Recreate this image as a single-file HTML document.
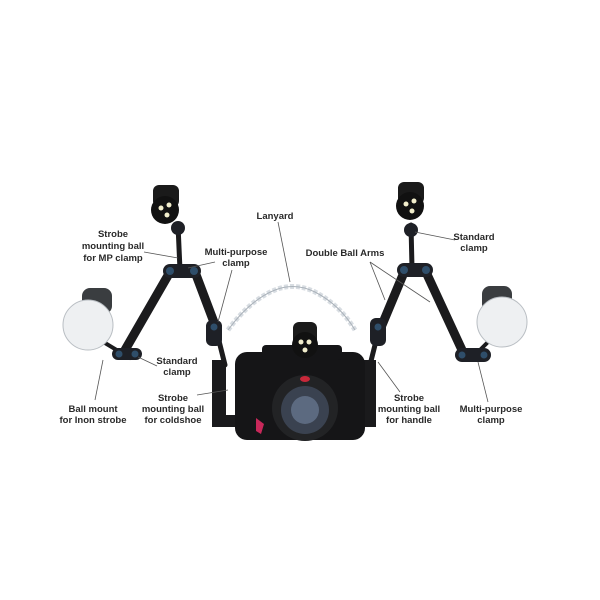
<!DOCTYPE html>
<html><head><style>
html,body{margin:0;padding:0;background:#fff;}
svg{display:block}
text{font-family:"Liberation Sans",sans-serif;font-weight:bold;font-size:9.5px;fill:#2a2a2a;text-anchor:middle}
</style></head><body>
<svg width="600" height="600" viewBox="0 0 600 600">
<rect width="600" height="600" fill="#fff"/>
<!-- lanyard -->
<path d="M228,330 Q250,300 275,290 Q295,282 315,292 Q340,305 355,330" fill="none" stroke="#d8dde2" stroke-width="5" stroke-dasharray="4 2"/>
<path d="M228,330 Q250,300 275,290 Q295,282 315,292 Q340,305 355,330" fill="none" stroke="#aab2ba" stroke-width="1"/>
<!-- left arms -->
<g stroke="#1b1b1d" stroke-linecap="round" fill="none">
<line x1="170" y1="272" x2="125" y2="350" stroke-width="9"/>
<line x1="195" y1="272" x2="215" y2="325" stroke-width="9"/>
<line x1="178" y1="225" x2="180" y2="270" stroke-width="5"/>
<line x1="215" y1="325" x2="225" y2="365" stroke-width="5"/>
<line x1="100" y1="340" x2="130" y2="358" stroke-width="4"/>
<!-- right arms -->
<line x1="405" y1="270" x2="382" y2="325" stroke-width="9"/>
<line x1="425" y1="270" x2="462" y2="350" stroke-width="9"/>
<line x1="411" y1="225" x2="412" y2="268" stroke-width="5"/>
<line x1="380" y1="325" x2="370" y2="365" stroke-width="5"/>
<line x1="478" y1="352" x2="495" y2="335" stroke-width="4"/>
</g>
<!-- clamps -->
<g fill="#1e2026">
<rect x="163" y="264" width="38" height="14" rx="7"/>
<rect x="112" y="348" width="30" height="12" rx="6"/>
<rect x="397" y="263" width="36" height="14" rx="7"/>
<rect x="455" y="348" width="36" height="14" rx="7"/>
<rect x="206" y="320" width="16" height="26" rx="6"/>
<rect x="370" y="318" width="16" height="28" rx="6"/>
<circle cx="178" cy="228" r="7"/><circle cx="411" cy="230" r="7"/>
</g>
<g fill="#2f4e6a">
<circle cx="170" cy="271" r="4"/><circle cx="194" cy="271" r="4"/>
<circle cx="404" cy="270" r="4"/><circle cx="426" cy="270" r="4"/>
<circle cx="119" cy="354" r="3.5"/><circle cx="135" cy="354" r="3.5"/>
<circle cx="462" cy="355" r="3.5"/><circle cx="484" cy="355" r="3.5"/>
<circle cx="214" cy="327" r="3.5"/><circle cx="378" cy="327" r="3.5"/>
</g>
<!-- video lights -->
<g>
<rect x="153" y="185" width="26" height="22" rx="6" fill="#1a1a1a"/>
<circle cx="165" cy="210" r="14" fill="#111"/>
<circle cx="161" cy="208" r="2.5" fill="#f2eecc"/><circle cx="169" cy="205" r="2.5" fill="#f2eecc"/><circle cx="167" cy="215" r="2.5" fill="#f2eecc"/>
<rect x="398" y="182" width="26" height="22" rx="6" fill="#1a1a1a"/>
<circle cx="410" cy="206" r="14" fill="#111"/>
<circle cx="406" cy="204" r="2.5" fill="#f2eecc"/><circle cx="414" cy="201" r="2.5" fill="#f2eecc"/><circle cx="412" cy="211" r="2.5" fill="#f2eecc"/>
</g>
<!-- strobes -->
<rect x="82" y="288" width="30" height="26" rx="8" fill="#3a3d40"/>
<circle cx="88" cy="325" r="25" fill="#eef0f2" stroke="#b9bec3"/>
<rect x="482" y="286" width="30" height="26" rx="8" fill="#3a3d40"/>
<circle cx="502" cy="322" r="25" fill="#eef0f2" stroke="#b9bec3"/>
<!-- camera -->
<path d="M212,360 h14 v55 h12 v12 h-26 z" fill="#1a1a1c"/>
<path d="M376,360 h-14 v55 h-12 v12 h26 z" fill="#1a1a1c"/>
<rect x="235" y="352" width="130" height="88" rx="12" fill="#151517"/>
<rect x="262" y="345" width="80" height="15" rx="4" fill="#151517"/>
<rect x="293" y="322" width="24" height="25" rx="6" fill="#1b1b1b"/>
<circle cx="305" cy="345" r="13" fill="#111"/>
<circle cx="301" cy="342" r="2.5" fill="#f2eecc"/><circle cx="309" cy="342" r="2.5" fill="#f2eecc"/><circle cx="305" cy="350" r="2.5" fill="#f2eecc"/>
<circle cx="305" cy="408" r="33" fill="#222325"/>
<circle cx="305" cy="410" r="24" fill="#3a4250"/>
<circle cx="305" cy="410" r="14" fill="#5c6a80"/>
<ellipse cx="305" cy="379" rx="5" ry="3" fill="#c8283a"/>
<path d="M256,418 l8,6 -3,10 -5,-3z" fill="#c8285a"/>
<!-- leader lines -->
<g stroke="#555" stroke-width="0.8">
<line x1="278" y1="222" x2="290" y2="282"/>
<line x1="144" y1="252" x2="178" y2="258"/>
<line x1="215" y1="262" x2="188" y2="268"/>
<line x1="232" y1="270" x2="218" y2="322"/>
<line x1="370" y1="262" x2="385" y2="300"/>
<line x1="370" y1="262" x2="430" y2="302"/>
<line x1="455" y1="240" x2="415" y2="232"/>
<line x1="157" y1="366" x2="138" y2="357"/>
<line x1="103" y1="360" x2="95" y2="400"/>
<line x1="197" y1="395" x2="228" y2="390"/>
<line x1="400" y1="392" x2="378" y2="362"/>
<line x1="488" y1="402" x2="478" y2="362"/>
</g>
<!-- labels -->
<text x="275" y="219">Lanyard</text>
<text x="113" y="237">Strobe</text><text x="113" y="249">mounting ball</text><text x="113" y="261">for MP clamp</text>
<text x="236" y="255">Multi-purpose</text><text x="236" y="266">clamp</text>
<text x="345" y="256">Double Ball Arms</text>
<text x="474" y="240">Standard</text><text x="474" y="251">clamp</text>
<text x="177" y="364">Standard</text><text x="177" y="375">clamp</text>
<text x="93" y="412">Ball mount</text><text x="93" y="423">for Inon strobe</text>
<text x="173" y="401">Strobe</text><text x="173" y="412">mounting ball</text><text x="173" y="423">for coldshoe</text>
<text x="409" y="401">Strobe</text><text x="409" y="412">mounting ball</text><text x="409" y="423">for handle</text>
<text x="491" y="412">Multi-purpose</text><text x="491" y="423">clamp</text>
</svg>
</body></html>
